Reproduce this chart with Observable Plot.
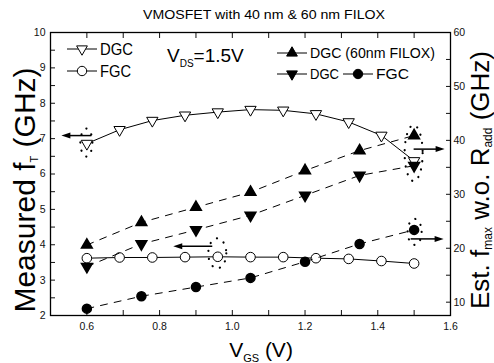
<!DOCTYPE html>
<html><head><meta charset="utf-8">
<script src="https://cdn.jsdelivr.net/npm/d3@7"></script>
<script src="https://cdn.jsdelivr.net/npm/@observablehq/plot@0.6"></script>
<style>body{margin:0;background:#fff} svg{display:block}</style>
</head><body><div id="chart"></div>
<script>
// ---- data ----
const vgsFT = [0.6, 0.69, 0.78, 0.87, 0.96, 1.05, 1.14, 1.23, 1.32, 1.41, 1.5];
const ftDGC = [6.86, 7.25, 7.51, 7.66, 7.75, 7.82, 7.80, 7.70, 7.47, 7.09, 6.37];
const ftFGC = [3.62, 3.64, 3.64, 3.65, 3.66, 3.65, 3.65, 3.62, 3.60, 3.54, 3.47];
const vgsFmax = [0.6, 0.75, 0.9, 1.05, 1.2, 1.35, 1.5];
const fmaxDGC60 = [20.6, 24.8, 27.6, 30.4, 34.4, 38.1, 40.9];
const fmaxDGC = [16.6, 20.8, 23.4, 26.1, 29.8, 33.5, 35.3];
const fmaxFGC = [8.8, 11.1, 12.8, 14.5, 17.5, 20.8, 23.4];
const xTicks = [0.6, 0.8, 1.0, 1.2, 1.4, 1.6];
const yLeftTicks = [2, 3, 4, 5, 6, 7, 8, 9, 10];
const yRightTicks = [10, 20, 30, 40, 50, 60];
const leftDomain = [2, 10];
const rightDomain = [7.53, 60];
const xDomain = [0.5, 1.6];

const toLeft = v => leftDomain[0] + (v - rightDomain[0]) * (leftDomain[1] - leftDomain[0]) / (rightDomain[1] - rightDomain[0]);
const fromLeft = v => rightDomain[0] + (v - leftDomain[0]) * (rightDomain[1] - rightDomain[0]) / (leftDomain[1] - leftDomain[0]);

const ft = vgsFT.map((v, i) => ({vgs: v, dgc: ftDGC[i], fgc: ftFGC[i]}));
const fm = vgsFmax.map((v, i) => ({vgs: v, a: toLeft(fmaxDGC60[i]), b: toLeft(fmaxDGC[i]), c: toLeft(fmaxFGC[i])}));

const triDown = {draw(ctx, size) {
  const y = -Math.sqrt(size / (Math.sqrt(3) * 3));
  ctx.moveTo(0, -2 * y); ctx.lineTo(-Math.sqrt(3) * y, y); ctx.lineTo(Math.sqrt(3) * y, y); ctx.closePath();
}};

const xMinor = d3.range(5, 17).map(d => d / 10);
const yLeftMinor = d3.range(4, 21).map(d => d / 2);
const yRightMinor = d3.range(2, 13).map(d => toLeft(d * 5));
const blank = () => "";
const FONT = "'Liberation Sans', Arial, sans-serif";

const chart = Plot.plot({
  width: 494, height: 363,
  marginLeft: 50, marginRight: 44, marginTop: 32, marginBottom: 48,
  style: {fontFamily: FONT, fontSize: "10px", color: "#111", background: "#fff"},
  x: {domain: xDomain, axis: null, label: null},
  y: {domain: leftDomain, axis: null, label: null},
  marks: [
    Plot.axisX(xTicks, {anchor: "bottom", tickSize: 0, tickPadding: 7, tickFormat: d => d.toFixed(1), fontSize: 10.5, label: null}),
    Plot.axisX(xMinor, {anchor: "bottom", tickSize: -5, tickFormat: blank, strokeWidth: 1, label: null}),
    Plot.axisX(xMinor, {anchor: "top", tickSize: -5, tickFormat: blank, strokeWidth: 1, label: null}),
    Plot.axisY(yLeftTicks, {anchor: "left", tickSize: 0, tickPadding: 5, fontSize: 10.5, label: null}),
    Plot.axisY(yLeftMinor, {anchor: "left", tickSize: -5, tickFormat: blank, label: null}),
    Plot.axisY(yRightTicks.map(toLeft), {anchor: "right", tickSize: 0, tickPadding: 3, tickFormat: d => String(Math.round(fromLeft(d))), fontSize: 10.5, label: null}),
    Plot.axisY(yRightMinor, {anchor: "right", tickSize: -5, tickFormat: blank, label: null}),
    Plot.frame({stroke: "#000", strokeWidth: 1.3}),
    Plot.line(ft, {x: "vgs", y: "dgc", stroke: "#000", strokeWidth: 1}),
    Plot.line(ft, {x: "vgs", y: "fgc", stroke: "#000", strokeWidth: 1}),
    Plot.dot(ft, {x: "vgs", y: "dgc", symbol: triDown, r: 4.2, fill: "#fff", stroke: "#000", strokeWidth: 1}),
    Plot.dot(ft, {x: "vgs", y: "fgc", symbol: "circle", r: 4.8, fill: "#fff", stroke: "#000", strokeWidth: 1}),
    Plot.line(fm, {x: "vgs", y: "a", stroke: "#000", strokeWidth: 1, strokeDasharray: "7,7"}),
    Plot.line(fm, {x: "vgs", y: "b", stroke: "#000", strokeWidth: 1, strokeDasharray: "7,7"}),
    Plot.line(fm, {x: "vgs", y: "c", stroke: "#000", strokeWidth: 1, strokeDasharray: "7,7"}),
    Plot.dot(fm, {x: "vgs", y: "a", symbol: "triangle", r: 4, fill: "#000", stroke: "#000"}),
    Plot.dot(fm, {x: "vgs", y: "b", symbol: triDown, r: 4, fill: "#000", stroke: "#000"}),
    Plot.dot(fm, {x: "vgs", y: "c", symbol: "circle", r: 4.5, fill: "#000", stroke: "#000"})
  ]
});
document.getElementById("chart").append(chart);

const svg = d3.select(chart);
const sx = chart.scale("x"), sy = chart.scale("y");
const X = v => sx.apply(v), Y = v => sy.apply(v);

// ---- annotations: dotted ellipses and arrows ----
const ann = svg.append("g").attr("stroke", "#000");
function ellipse(cx, cy, rx, ry) {
  ann.append("ellipse").attr("cx", cx).attr("cy", cy).attr("rx", rx).attr("ry", ry)
    .attr("fill", "none").attr("stroke-width", 2.2).attr("stroke-linecap", "round").attr("stroke-dasharray", "0.1,8");
}
function arrow(x1, x2, y) {
  const dir = Math.sign(x2 - x1);
  ann.append("line").attr("x1", x1).attr("x2", x2 - dir * 7).attr("y1", y).attr("y2", y).attr("stroke-width", 1.5);
  ann.append("path").attr("d", `M${x2},${y}L${x2 - dir * 9},${y - 3}L${x2 - dir * 9},${y + 3}Z`).attr("fill", "#000").attr("stroke", "none");
}
{
  const i = 0, cx = X(vgsFT[i]), cy = Y(ftDGC[i]);
  ellipse(cx, cy - 0.5, 6, 14); arrow(cx + 5, cx - 25, cy - 7.5);
}
{
  const i = 4, cx = X(vgsFT[i]), cy = Y(ftFGC[i]);
  ellipse(cx, cy - 3, 9, 15); arrow(cx - 5, cx - 44, cy - 10);
}
{
  const i = vgsFmax.length - 1, cx = X(vgsFmax[i]);
  const cy = (Y(toLeft(fmaxDGC60[i])) + Y(toLeft(fmaxDGC[i]))) / 2;
  ellipse(cx, cy + 3, 9, 28); arrow(cx, cx + 31, cy - 1);
}
{
  const i = vgsFmax.length - 1, cx = X(vgsFmax[i]), cy = Y(toLeft(fmaxFGC[i]));
  ellipse(cx + 1, cy + 2.5, 7, 13); arrow(cx - 3, cx + 30, cy + 9.5);
}

// ---- legend ----
const lg = svg.append("g").attr("font-family", FONT).attr("fill", "#000").attr("text-anchor", "start");
function legendItem(x0, y, symType, down, filled, label, lsize, tlen) {
  lg.append("line").attr("x1", x0).attr("x2", x0 + 30).attr("y1", y).attr("y2", y).attr("stroke", "#000").attr("stroke-width", 1);
  const sym = d3.symbol().type(down ? triDown : symType).size(symType === d3.symbolCircle ? Math.PI * 4.7 * 4.7 : Math.PI * 16);
  lg.append("path").attr("d", sym()).attr("transform", `translate(${x0 + 15},${y})`)
    .attr("fill", filled ? "#000" : "#fff").attr("stroke", "#000").attr("stroke-width", 1);
  const t = lg.append("text").attr("x", x0 + 33).attr("y", y).attr("dy", "0.36em").attr("font-size", lsize).text(label);
  if (tlen) t.attr("textLength", tlen).attr("lengthAdjust", "spacingAndGlyphs");
}
legendItem(67, 49, d3.symbolTriangle, true, false, "DGC", 16, 33);
legendItem(67, 71, d3.symbolCircle, false, false, "FGC", 16, 31);
legendItem(277, 53, d3.symbolTriangle, false, true, "DGC (60nm FILOX)", 15, 125);
legendItem(277, 74, d3.symbolTriangle, true, true, "DGC", 15, 29);
legendItem(343, 74, d3.symbolCircle, false, true, "FGC", 15, 33);

// V_DS label
const vds = lg.append("text").attr("x", 167).attr("y", 62).attr("font-size", 19);
vds.append("tspan").text("V");
vds.append("tspan").attr("font-size", 10).attr("dy", 5).text("DS");
vds.append("tspan").attr("dy", -5).text("=1.5V");

// title
svg.append("text").attr("x", 264).attr("y", 19).attr("text-anchor", "middle").attr("font-family", FONT)
  .attr("font-size", 12.5).attr("textLength", 242).attr("lengthAdjust", "spacingAndGlyphs").attr("fill", "#000")
  .text("VMOSFET with 40 nm & 60 nm FILOX");

// axis titles
const xl = svg.append("text").attr("x", 261).attr("y", 357).attr("text-anchor", "middle").attr("font-family", FONT).attr("font-size", 21).attr("fill", "#000");
xl.append("tspan").text("V");
xl.append("tspan").attr("font-size", 11).attr("dy", 5).text("GS");
xl.append("tspan").attr("dy", -5).text(" (V)");

const yl = svg.append("text").attr("transform", "translate(35,190) rotate(-90)").attr("text-anchor", "middle").attr("font-family", FONT).attr("font-size", 30).attr("fill", "#000");
yl.append("tspan").text("Measured f");
yl.append("tspan").attr("font-size", 11).attr("dy", 3).text("T");
yl.append("tspan").attr("dy", -3).text(" (GHz)");

const yr = svg.append("text").attr("transform", "translate(489,180) rotate(-90)").attr("text-anchor", "middle").attr("font-family", FONT).attr("font-size", 26).attr("fill", "#000");
yr.append("tspan").text("Est. f");
yr.append("tspan").attr("font-size", 12).attr("dy", 3).text("max");
yr.append("tspan").attr("dy", -3).text(" w.o. R");
yr.append("tspan").attr("font-size", 12).attr("dy", 3).text("add");
yr.append("tspan").attr("dy", -3).text(" (GHz)");
</script>
</body></html>
